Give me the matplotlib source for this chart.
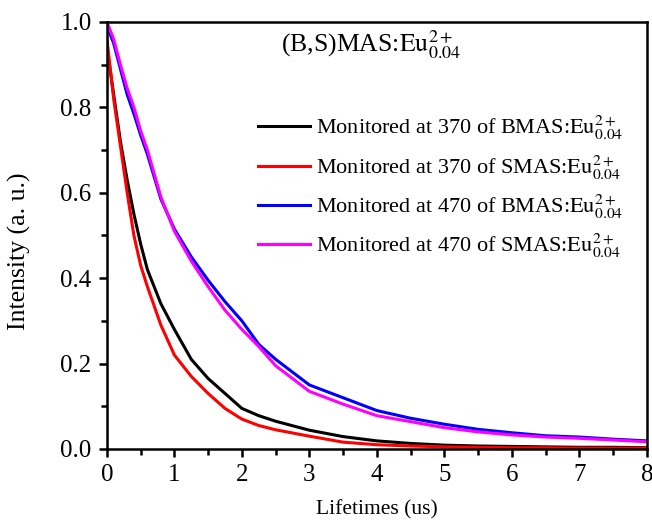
import matplotlib
matplotlib.use("Agg")
import matplotlib.pyplot as plt
from matplotlib.ticker import MultipleLocator, FormatStrFormatter

plt.rcParams['font.family'] = ['Liberation Serif', 'DejaVu Serif']
plt.rcParams['mathtext.fontset'] = 'stix'

# time axis (us) and decay values
t = [0, 0.1, 0.2, 0.3, 0.4, 0.5, 0.6, 0.8, 1.0, 1.25, 1.5, 1.75, 2.0, 2.25,
     2.5, 3.0, 3.5, 4.0, 4.5, 5.0, 5.5, 6.0, 6.5, 7.0, 7.5, 8.0]
bmas_370 = [0.94, 0.83, 0.72, 0.63, 0.55, 0.48, 0.42, 0.34, 0.28, 0.21, 0.165,
            0.13, 0.095, 0.078, 0.065, 0.044, 0.029, 0.019, 0.013, 0.009, 0.007,
            0.006, 0.005, 0.004, 0.004, 0.003]
smas_370 = [0.96, 0.82, 0.71, 0.60, 0.50, 0.43, 0.38, 0.29, 0.22, 0.17, 0.13,
            0.095, 0.07, 0.055, 0.045, 0.03, 0.016, 0.01, 0.007, 0.005, 0.004,
            0.003, 0.003, 0.002, 0.002, 0.002]
bmas_470 = [0.99, 0.95, 0.89, 0.83, 0.785, 0.735, 0.69, 0.585, 0.515, 0.45, 0.395,
            0.345, 0.30, 0.245, 0.21, 0.15, 0.12, 0.09, 0.072, 0.058, 0.046,
            0.038, 0.031, 0.028, 0.023, 0.019]
smas_470 = [1.0, 0.96, 0.90, 0.845, 0.80, 0.745, 0.70, 0.59, 0.51, 0.44, 0.38,
            0.325, 0.28, 0.24, 0.195, 0.135, 0.105, 0.078, 0.064, 0.05, 0.04,
            0.033, 0.028, 0.025, 0.021, 0.017]

sub = r'$\mathrm{Eu}^{2+}_{0.04}$'
labels = ['Monitored at 370 of BMAS:' + sub,
          'Monitored at 370 of SMAS:' + sub,
          'Monitored at 470 of BMAS:' + sub,
          'Monitored at 470 of SMAS:' + sub]
colors = ['black', '#ff0000', '#0000ff', '#ff00ff']

fig = plt.figure(figsize=(6.52, 5.23), dpi=100)
ax = fig.add_axes([0.164, 0.1415, 0.828, 0.8165])

for y, lab, c in zip([bmas_370, smas_370, bmas_470, smas_470], labels, colors):
    ax.plot(t, y, color=c, lw=2.2, label=lab)

ax.set_xlim(0, 8)
ax.set_ylim(0, 1.0)
ax.xaxis.set_major_locator(MultipleLocator(1))
ax.xaxis.set_minor_locator(MultipleLocator(0.5))
ax.yaxis.set_major_locator(MultipleLocator(0.2))
ax.yaxis.set_minor_locator(MultipleLocator(0.1))
ax.yaxis.set_major_formatter(FormatStrFormatter('%.1f'))
ax.tick_params(which='both', direction='out', width=1.8, labelsize=18,
               top=False, right=False)
ax.tick_params(which='major', length=6, pad=5)
ax.tick_params(which='minor', length=4)
for s in ax.spines.values():
    s.set_linewidth(1.8)

ax.set_ylabel('Intensity (a. u.)', fontsize=18.5)
ax.yaxis.set_label_coords(-0.141, 0.464)
ax.set_xlabel('Lifetimes (us)', fontsize=15.5, labelpad=10)

ax.text(0.49, 0.948, '(B,S)MAS:' + sub, transform=ax.transAxes,
        fontsize=18.5, ha='center', va='center')

ax.legend(loc='upper left', bbox_to_anchor=(0.28, 0.784), frameon=False,
          borderpad=0, borderaxespad=0, fontsize=16, handlelength=2.35,
          handletextpad=0.27, labelspacing=0.5)

fig.savefig('out.png', dpi=100)
